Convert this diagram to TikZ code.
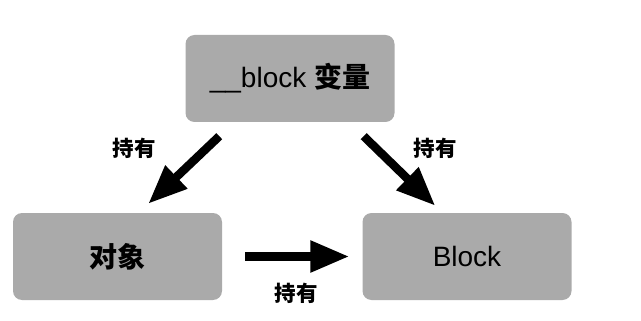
\documentclass[tikz,border=0pt]{standalone}
\usepackage{fontspec}
\setmainfont{Liberation Sans}
\newfontfamily\cjk{Noto Sans CJK SC}
\usetikzlibrary{arrows.meta,calc}

\definecolor{boxgray}{RGB}{170,170,170}

\tikzset{
  holdbox/.style={fill=boxgray, rounded corners=9pt, minimum width=209pt,
    minimum height=87pt, inner sep=0pt, font=\fontsize{28}{30}\selectfont},
  holdarrow/.style={line width=8.5pt, -{Triangle[length=39pt,width=30pt]}},
  holdlabel/.style={font=\cjk\bfseries\fontsize{21.5}{24}\selectfont}
}

\begin{document}
\begin{tikzpicture}[x=1pt,y=-1pt]
\useasboundingbox (0,0) rectangle (641,321); % page

\node[holdbox] (var) at (290,78.5) {\_\_block {\cjk\bfseries 变量}}; % top box
\node[holdbox] (obj) at (117.5,256.5) {\cjk\bfseries 对象}; % left box
\node[holdbox] (blk) at (467,256.5) {Block}; % right box

% ends of the arrows
\coordinate (varL) at ($(var.south west)+(34,14)$);
\coordinate (objT) at ($(obj.north east)+(-74,-9)$);
\coordinate (varR) at ($(var.south east)+(-31,14)$);
\coordinate (blkT) at ($(blk.north west)+(73,-7)$);
\coordinate (objR) at ($(obj.east)+(23,0)$);
\coordinate (blkL) at ($(blk.west)+(-13,0)$);

\draw[holdarrow] (varL) -- (objT); % var holds object
\draw[holdarrow] (varR) -- (blkT); % var holds block
\draw[holdarrow] (objR) -- (blkL); % object holds block

\node[holdlabel] (lbl1) at (134,148) {持有};
\node[holdlabel] (lbl2) at (435,148) {持有};
\node[holdlabel] (lbl3) at (296,293) {持有};
\end{tikzpicture}
\end{document}
